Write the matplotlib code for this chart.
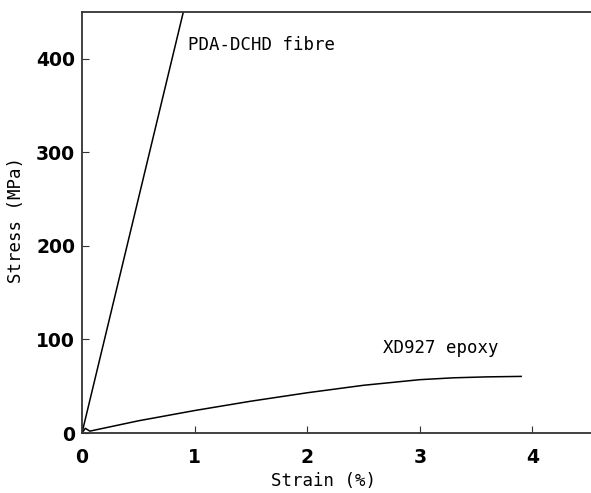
import matplotlib
matplotlib.use("Agg")
import matplotlib.pyplot as plt

# Stress-strain data
fibre_strain = [0.0, 0.45, 0.90]
fibre_stress = [0.0, 225.0, 450.0]

epoxy_strain = [0.0, 0.03, 0.07, 0.5, 1.0, 1.5, 2.0, 2.5, 3.0, 3.3, 3.6, 3.9]
epoxy_stress = [0.0, 5.0, 2.0, 13.0, 24.0, 34.0, 43.0, 51.0, 57.0, 59.0, 60.0, 60.5]

x_ticks = [0, 1, 2, 3, 4]
y_ticks = [0, 100, 200, 300, 400]

label_font = "DejaVu Sans Mono"

fig = plt.figure(figsize=(5.91, 4.93), dpi=100)
ax = fig.add_axes([0.1387, 0.1217, 0.8613, 0.854])

ax.plot(fibre_strain, fibre_stress, color="black", lw=1.1)
ax.plot(epoxy_strain, epoxy_stress, color="black", lw=1.1)

ax.set_xlim(0, 4.52)
ax.set_ylim(0, 450)
ax.set_xticks(x_ticks)
ax.set_yticks(y_ticks)
ax.tick_params(direction="in", length=5, width=0.8, colors="#333333",
               labelsize=13.5)
ax.tick_params(axis="x", pad=11)
ax.tick_params(axis="y", pad=5)
for lab in ax.get_xticklabels() + ax.get_yticklabels():
    lab.set_fontweight("bold")
    lab.set_color("black")

ax.spines["right"].set_visible(False)
for s in ("left", "bottom", "top"):
    ax.spines[s].set_linewidth(1.3)
    ax.spines[s].set_color("#333333")

ax.text(0.94, 415, "PDA-DCHD fibre", fontsize=12.5, family=label_font,
        va="center", ha="left")
ax.text(2.67, 91, "XD927 epoxy", fontsize=12.5, family=label_font,
        va="center", ha="left")

ax.set_xlabel("Strain (%)", fontsize=12.5, family=label_font)
ax.set_ylabel("Stress (MPa)", fontsize=12.5, family=label_font)
ax.xaxis.set_label_coords(0.475, -0.093)
ax.yaxis.set_label_coords(-0.112, 0.505)

fig.savefig("out.png", dpi=100)
